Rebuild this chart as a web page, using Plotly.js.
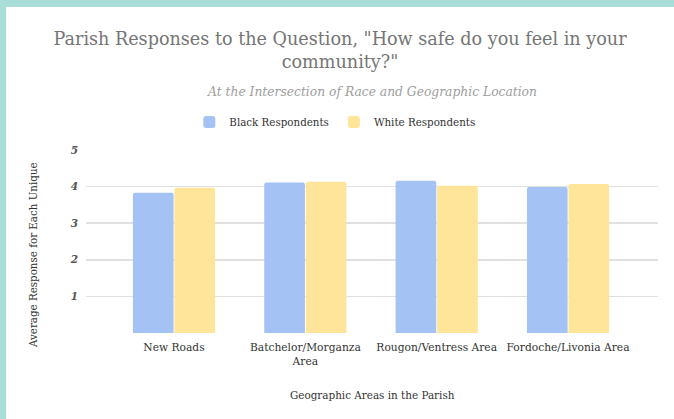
<!DOCTYPE html>
<html><head><meta charset="utf-8">
<script src="https://cdn.plot.ly/plotly-3.0.1.min.js"></script>
<style>
html,body{margin:0;padding:0;background:#a9ddd7;}
#wrap{position:absolute;left:6px;top:7px;width:668px;height:412px;background:#fff;}
#chart{width:668px;height:412px;}
</style></head>
<body><div id="wrap"><div id="chart"></div></div>
<script>
const categories = ["New Roads", "Batchelor/Morganza<br>Area", "Rougon/Ventress Area", "Fordoche/Livonia Area"];
const blackValues = [3.83, 4.11, 4.16, 3.99];
const whiteValues = [3.97, 4.13, 4.02, 4.07];
const seriesNames = ["Black Respondents", "White Respondents"];
const yTicks = [1, 2, 3, 4, 5];

const serif = "DejaVu Serif";
const traces = [
  {type:"bar", x:categories, y:blackValues, name:seriesNames[0], marker:{color:"#a4c2f4", cornerradius:2}},
  {type:"bar", x:categories, y:whiteValues, name:seriesNames[1], marker:{color:"#ffe599", cornerradius:2}}
];
const layout = {
  width:668, height:412,
  margin:{l:80, r:16, t:143, b:86},
  paper_bgcolor:"#fff", plot_bgcolor:"#fff",
  barmode:"group", bargap:0.368, bargroupgap:0.02,
  font:{family:serif, color:"#444"},
  title:{text:'Parish Responses to the Question, "How safe do you feel in your<br>community?"',
    font:{family:serif, size:17.6, color:"#757575"}, x:0.5, xanchor:"center", y:0.908, yanchor:"middle", yref:"container"},
  showlegend:true,
  legend:{orientation:"h", x:0.435, xanchor:"center", y:1.153, yanchor:"middle", font:{size:10.3, color:"#333"}, itemwidth:30},
  xaxis:{range:[-0.67, 3.685], showgrid:false, zeroline:false, showline:false, ticks:"",
    tickfont:{size:10.7, color:"#333"}, ticklabelstandoff:6},
  yaxis:{range:[0,5], tickvals:yTicks, ticktext:yTicks.map(v=>"<i><b>"+v+"</b></i>"),
    showgrid:true, gridcolor:"#e0e0e0", gridwidth:1.5, zeroline:false, showline:false,
    tickfont:{size:10.5, color:"#555"}, ticklabelstandoff:7},
  annotations:[
    {text:"<i>At the Intersection of Race and Geographic Location</i>", xref:"paper", yref:"paper",
      x:0.5, y:1.317, xanchor:"center", yanchor:"middle", showarrow:false, font:{family:serif, size:12.3, color:"#9e9e9e"}},
    {text:"Average Response for Each Unique", xref:"paper", yref:"paper", textangle:-90,
      x:(33-86)/572, y:(333-255)/183, xanchor:"center", yanchor:"middle", showarrow:false, font:{family:serif, size:10.3, color:"#333"}},
    {text:"Geographic Areas in the Parish", xref:"paper", yref:"paper",
      x:0.5, y:(333-395)/183, xanchor:"center", yanchor:"middle", showarrow:false, font:{family:serif, size:10.4, color:"#333"}}
  ]
};
Plotly.newPlot("chart", traces, layout, {displayModeBar:false, staticPlot:true});
</script></body></html>
